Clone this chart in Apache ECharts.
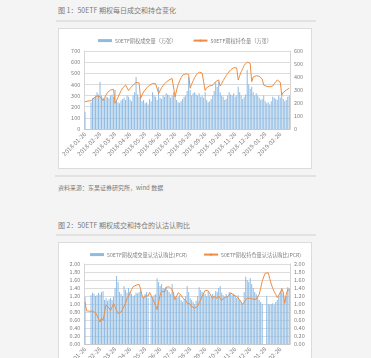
<!DOCTYPE html>
<html><head><meta charset="utf-8">
<script src="https://cdn.jsdelivr.net/npm/echarts@6/dist/echarts.min.js"></script>
<style>
html,body{margin:0;padding:0;background:#f4f4f4;width:371px;height:358px;overflow:hidden;font-family:"Noto Sans CJK SC","Noto Sans",sans-serif;}
.t{position:absolute;color:#7a7a7a;white-space:nowrap;}
.hr{position:absolute;height:2px;background:#e2e2e2;}
.box{position:absolute;background:#fff;border:1px solid #dcdcdc;}
</style></head><body>
<div class="t" style="left:58px;top:5px;font-size:7px;">图 1：50ETF 期权每日成交和持仓变化</div>
<div class="hr" style="left:56px;top:20px;width:260px;"></div>
<div id="c1" class="box" style="left:58px;top:28px;width:252px;height:139px;"></div>
<div class="hr" style="left:55px;top:175px;width:261px;"></div>
<div class="t" style="left:58px;top:183px;font-size:6px;">资料来源：东吴证券研究所，wind 数据</div>
<div class="t" style="left:58px;top:220px;font-size:7px;">图 2：50ETF 期权成交和持仓的认沽认购比</div>
<div class="hr" style="left:56px;top:234px;width:260px;"></div>
<div id="c2" class="box" style="left:58px;top:242px;width:252px;height:139px;"></div>
<script>
const tickLabels = ["2018-01-26","2018-02-28","2018-03-28","2018-04-26","2018-05-28","2018-06-26","2018-07-26","2018-08-28","2018-09-26","2018-10-26","2018-11-26","2018-12-26","2019-01-28","2019-02-26"];
const legend1 = ["50ETF期权成交量（万张）","50ETF期权持仓量（万张）"];
const legend2 = ["50ETF期权成交量认沽认购比(PCR)","50ETF期权持仓量认沽认购比(PCR)"];

const volume = [155,null,null,null,240,275,285,300,330,310,425,300,280,270,290,285,275,300,310,290,
350,260,240,230,255,270,280,260,300,290,265,250,300,330,466,310,290,300,250,260,
230,240,220,270,250,330,300,290,260,380,280,270,300,290,320,310,300,280,300,330,
300,260,240,235,250,270,290,300,340,466,350,300,320,330,310,300,320,290,300,280,
330,260,240,250,270,300,340,420,380,425,330,300,290,260,270,300,330,310,300,320,
290,300,380,330,300,270,290,310,530,400,360,380,330,300,320,300,280,260,270,300,
250,230,240,220,250,290,280,270,260,300,280,330,270,250,260,290,300];

const openInterest = [210,212,215,216,218,225,238,248,255,262,248,255,218,240,262,280,292,300,313,305,
197,220,245,270,295,315,330,338,330,296,312,325,338,350,358,364,355,236,262,285,
300,315,328,338,345,350,351,348,345,274,295,318,335,348,360,370,378,385,388,390,
248,300,340,370,395,415,428,425,422,420,313,345,370,395,415,430,438,441,430,420,
296,318,328,332,330,335,350,365,377,377,330,350,372,392,410,428,442,455,465,472,
479,470,377,410,440,465,490,505,515,518,505,364,400,405,410,408,405,400,385,338,
325,328,322,325,318,330,348,362,377,370,360,262,280,292,300,308,313];

const volPCR = [1.18,null,null,null,1.22,1.28,1.25,1.20,1.22,1.28,1.24,1.30,1.32,1.10,1.15,1.08,1.12,1.15,1.10,1.18,
1.40,1.70,1.55,1.30,1.25,1.20,1.45,1.35,1.28,1.40,1.30,1.25,1.20,1.22,1.28,1.26,1.30,1.35,1.22,1.18,
1.25,1.30,1.15,null,1.20,1.18,1.22,1.25,1.64,1.55,1.45,1.50,1.40,1.38,1.42,1.35,1.30,1.25,1.50,1.30,
1.20,1.15,1.18,1.22,1.10,1.05,1.12,1.20,1.45,1.30,1.15,1.10,1.05,1.00,1.08,1.20,1.42,1.35,1.30,1.28,
1.25,1.20,1.30,1.22,1.18,1.25,1.20,1.32,1.30,1.40,1.45,1.28,1.22,1.18,1.25,1.20,1.30,1.28,1.22,1.26,
1.20,1.15,1.22,1.10,1.05,1.00,1.30,1.68,1.60,1.55,1.65,1.50,1.40,1.30,1.25,1.20,1.10,1.05,1.00,null,
null,1.20,1.00,0.98,1.00,1.02,0.98,1.05,1.10,1.20,1.30,1.40,1.25,1.10,1.20,1.42,1.40];

const oiPCR = [1.05,0.83,0.82,0.82,0.81,0.82,0.80,0.78,0.71,0.66,0.55,0.65,0.59,0.78,0.98,1.01,0.90,0.84,0.92,1.01,
0.94,0.84,0.76,0.77,0.80,0.87,0.92,1.02,1.14,1.20,1.28,1.36,1.43,1.45,1.47,1.43,1.49,1.38,1.20,1.14,
1.20,1.20,1.20,1.29,1.26,1.14,1.09,0.96,0.86,1.05,1.22,1.32,1.33,1.30,1.42,1.47,1.43,1.40,1.36,1.22,
1.11,1.10,1.28,1.32,1.22,1.15,1.12,1.09,1.02,1.04,1.00,0.94,0.94,0.90,0.85,0.94,1.03,1.10,1.20,1.27,
1.34,1.30,1.33,1.28,1.20,1.14,1.20,1.18,1.14,1.20,1.16,1.09,1.13,1.17,1.12,1.18,1.23,1.28,1.27,1.22,
1.25,1.19,1.14,1.10,1.06,0.99,1.05,1.10,1.15,1.20,1.14,1.09,1.12,1.10,1.12,1.16,1.24,1.40,1.57,1.68,
1.77,1.82,1.78,1.64,1.50,1.39,1.31,1.24,1.16,1.17,1.28,1.38,1.30,1.02,1.24,1.36,1.34];

const cats = volume.map((_, i) => String(i));
const FONT = '"Noto Sans CJK SC","Noto Sans",sans-serif';
const LBL = {fontSize: 5.5, color: '#7f7f7f', fontFamily: FONT};

function xAxisCfg() {
  return {
    type: 'category', data: cats, boundaryGap: true,
    axisLine: {lineStyle: {color: '#c8c8c8', width: 1}},
    axisTick: {show: false},
    axisLabel: Object.assign({}, LBL, {
      fontSize: 6, rotate: 45, interval: 9, margin: 4,
      formatter: (v, idx) => tickLabels[Math.round(idx / 10)] || ''
    })
  };
}
function yAxisCfg(max, interval, pos, grid, fmt) {
  return {
    type: 'value', min: 0, max: max, interval: interval, position: pos,
    axisLine: {show: true, lineStyle: {color: '#d6d6d6'}},
    axisTick: {show: false},
    splitLine: {show: grid, lineStyle: {color: '#dcdcdc', width: 1}},
    axisLabel: Object.assign({}, LBL, {margin: 4, formatter: fmt})
  };
}
function legendCfg(names, itemGap, left) {
  return {
    top: 4, left: left, itemWidth: 14, itemHeight: 3, itemGap: itemGap,
    textStyle: Object.assign({}, LBL, {fontSize: 5.2, padding: [0,0,0,-2]}),
    data: [{name: names[0], icon: 'rect'}, {name: names[1]}]
  };
}

const c1 = echarts.init(document.getElementById('c1'));
c1.setOption({
  animation: false,
  legend: legendCfg(legend1, 16, 'center'),
  grid: {left: 24, right: 21, top: 22, bottom: 39},
  xAxis: xAxisCfg(),
  yAxis: [yAxisCfg(700, 100, 'left', true, v => String(v)), yAxisCfg(600, 100, 'right', false, v => String(v))],
  series: [
    {name: legend1[0], type: 'bar', data: volume, yAxisIndex: 0, barCategoryGap: '35%', itemStyle: {color: '#8fbbe3'}},
    {name: legend1[1], type: 'line', data: openInterest, yAxisIndex: 1, symbol: 'none', lineStyle: {color: '#ee8d42', width: 1}, itemStyle: {color: '#ee8d42'}}
  ]
});

const c2 = echarts.init(document.getElementById('c2'));
c2.setOption({
  animation: false,
  legend: legendCfg(legend2, 16, 26),
  grid: {left: 24, right: 21, top: 21, bottom: 38},
  xAxis: xAxisCfg(),
  yAxis: [yAxisCfg(2, 0.2, 'left', true, v => v.toFixed(2)), yAxisCfg(2, 0.2, 'right', false, v => v.toFixed(2))],
  series: [
    {name: legend2[0], type: 'bar', data: volPCR, yAxisIndex: 0, barCategoryGap: '35%', itemStyle: {color: '#8fbbe3'}},
    {name: legend2[1], type: 'line', data: oiPCR, yAxisIndex: 1, symbol: 'none', lineStyle: {color: '#ee8d42', width: 1}, itemStyle: {color: '#ee8d42'}}
  ]
});
</script>
</body></html>
